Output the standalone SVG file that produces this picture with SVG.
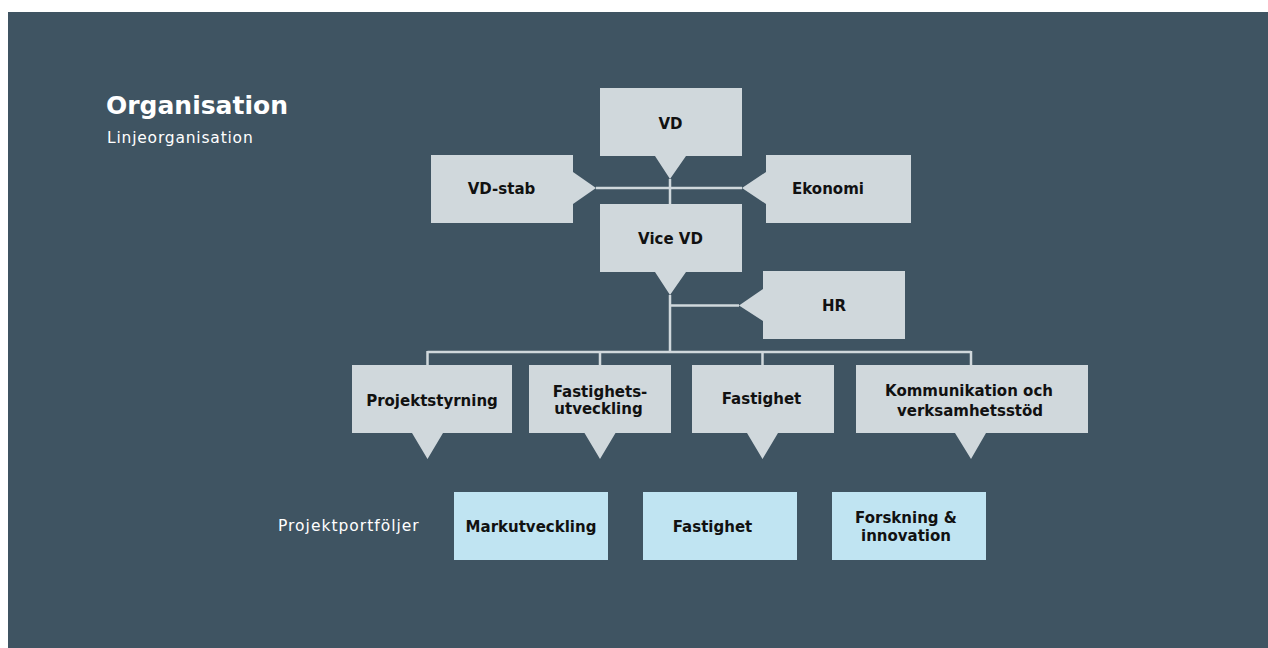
<svg xmlns="http://www.w3.org/2000/svg" width="1268" height="648" viewBox="0 0 1268 648">
<style>
.bg{fill:#3f5462}
.node{fill:#d0d8dc}
.pf{fill:#c0e4f2}
.conn{stroke:#d0d8dc;stroke-width:2.5;fill:none}
.lbl{font-family:"DejaVu Sans","Liberation Sans",sans-serif;font-weight:bold;font-size:15px;fill:#111;text-anchor:middle}
.title{font-family:"DejaVu Sans","Liberation Sans",sans-serif;font-weight:bold;font-size:25px;fill:#fff}
.sub{font-family:"DejaVu Sans","Liberation Sans",sans-serif;font-size:15.5px;fill:#fff;letter-spacing:0.8px}
.sub2{letter-spacing:1px}
</style>
<rect x="0" y="0" width="1268" height="648" fill="#ffffff"/>
<rect class="bg" x="8" y="12" width="1260" height="636"/>
<text class="title" x="106" y="114">Organisation</text>
<text class="sub" x="107" y="143">Linjeorganisation</text>
<text class="sub sub2" x="278" y="531">Projektportföljer</text>
<g id="connectors">
<path class="conn" d="M596,188 H742 M670,179 V204"/>
<path class="conn" d="M670,295 V352 M670,305.5 H739"/>
<path class="conn" d="M427.5,352 H971 M427.5,351 V365 M600,351 V365 M762.5,351 V365 M971,351 V365"/>
</g>
<g id="vd">
<polygon class="node" points="600,88 742,88 742,156 686,156 670,179 655,156 600,156"/>
<text class="lbl" x="670.5" y="129">VD</text>
</g>
<g id="vd-stab">
<polygon class="node" points="431,155 573,155 573,172 596,188 573,204 573,223 431,223"/>
<text class="lbl" x="501.5" y="194">VD-stab</text>
</g>
<g id="ekonomi">
<polygon class="node" points="766,155 911,155 911,223 766,223 766,204 742,188 766,172"/>
<text class="lbl" x="828" y="194">Ekonomi</text>
</g>
<g id="vice-vd">
<polygon class="node" points="600,204 742,204 742,272 686,272 670,295 655,272 600,272"/>
<text class="lbl" x="670.5" y="244">Vice VD</text>
</g>
<g id="hr">
<polygon class="node" points="763,271 905,271 905,339 763,339 763,321 739,305.5 763,289"/>
<text class="lbl" x="834" y="311">HR</text>
</g>
<g id="projektstyrning">
<polygon class="node" points="352,365 512,365 512,433 443,433 427.5,459 412,433 352,433"/>
<text class="lbl" x="432" y="405.5">Projektstyrning</text>
</g>
<g id="fastighetsutveckling">
<polygon class="node" points="529,365 671,365 671,433 615.5,433 600,459 584.5,433 529,433"/>
<text class="lbl" x="600" y="397">Fastighets-</text>
<text class="lbl" x="598.5" y="414">utveckling</text>
</g>
<g id="fastighet">
<polygon class="node" points="692,365 834,365 834,433 778,433 762.5,459 747,433 692,433"/>
<text class="lbl" x="761.5" y="404">Fastighet</text>
</g>
<g id="kommunikation">
<polygon class="node" points="856,365 1088,365 1088,433 986,433 971,459 955,433 856,433"/>
<text class="lbl" x="969" y="396">Kommunikation och</text>
<text class="lbl" x="970" y="416">verksamhetsstöd</text>
</g>
<g id="pf-markutveckling">
<rect class="pf" x="454" y="492" width="154" height="68"/>
<text class="lbl" x="531" y="532">Markutveckling</text>
</g>
<g id="pf-fastighet">
<rect class="pf" x="643" y="492" width="154" height="68"/>
<text class="lbl" x="712.5" y="532">Fastighet</text>
</g>
<g id="pf-forskning">
<rect class="pf" x="832" y="492" width="154" height="68"/>
<text class="lbl" x="906" y="523">Forskning &amp;</text>
<text class="lbl" x="906" y="541">innovation</text>
</g>
</svg>
